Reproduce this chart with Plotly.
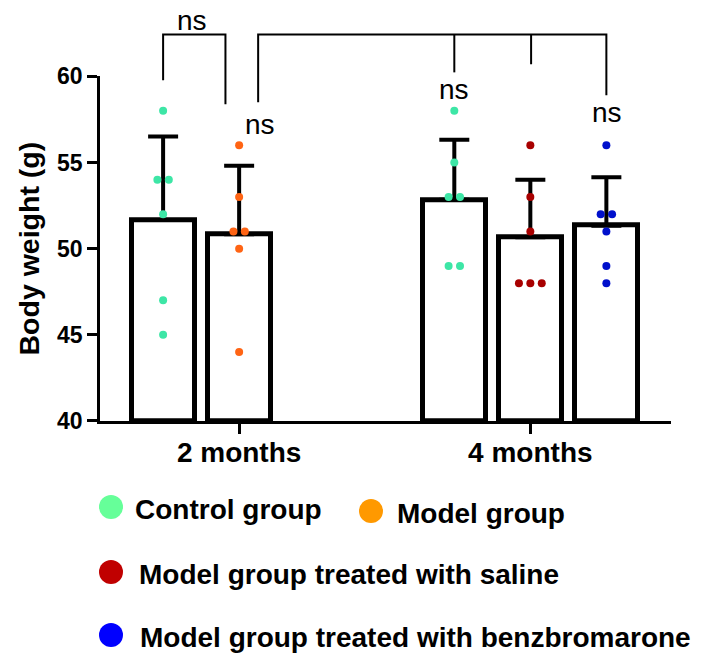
import numpy as np
import plotly.graph_objects as go

# ---------------- data ----------------
categories = ["2 months", "4 months"]
series_names = ["Control group", "Model group",
                "Model group treated with saline",
                "Model group treated with benzbromarone"]

control_2m = [58, 54, 54, 52, 47, 45]
model_2m = [56, 53, 51, 51, 50, 44]
control_4m = [58, 55, 53, 53, 49, 49]
saline_4m = [56, 53, 51, 48, 48, 48]
benz_4m = [56, 52, 52, 51, 49, 48]

y_ticks = [40, 45, 50, 55, 60]

# ---------------- styling / layout ----------------
FONT = "Liberation Sans, Arial, sans-serif"
dot_colors = {"Control group": "#3DE6A6", "Model group": "#FF6414",
              "Model group treated with saline": "#A80000",
              "Model group treated with benzbromarone": "#0010CC"}
legend_colors = {"Control group": "#66FF99", "Model group": "#FF9900",
                 "Model group treated with saline": "#C00000",
                 "Model group treated with benzbromarone": "#0000FF"}

group_start = [0.0, 3.83]   # x position of slot 0 for each group
slot_width = 1.0
bar_width = 0.83
dup_step = 0.15

bars = [  # (group index, slot, series name, values)
    (0, 0, "Control group", control_2m),
    (0, 1, "Model group", model_2m),
    (1, 0, "Control group", control_4m),
    (1, 1, "Model group treated with saline", saline_4m),
    (1, 2, "Model group treated with benzbromarone", benz_4m),
]

fig = go.Figure()

for g, s, name, vals in bars:
    x = group_start[g] + s * slot_width
    arr = np.array(vals, dtype=float)
    mean = arr.mean()
    sd = arr.std(ddof=1)
    fig.add_trace(go.Bar(
        x=[x], y=[mean - 40], base=[40], width=[bar_width],
        marker=dict(color="white", line=dict(color="black", width=5)),
        error_y=dict(type="data", array=[sd], arrayminus=[0], symmetric=False,
                     color="black", thickness=4, width=15),
        showlegend=False, hoverinfo="skip", xaxis="x", yaxis="y"))
    # dots with side-by-side offsets for tied values
    xs, ys = [], []
    for v in sorted(set(vals), reverse=True):
        c = vals.count(v)
        for k in range(c):
            xs.append(x + (k - (c - 1) / 2) * dup_step)
            ys.append(v)
    fig.add_trace(go.Scatter(
        x=xs, y=ys, mode="markers",
        marker=dict(color=dot_colors[name], size=8, line=dict(width=0)),
        showlegend=False, cliponaxis=False, hoverinfo="skip",
        xaxis="x", yaxis="y"))

# ---------------- significance brackets (on tall invisible axis y2) ----------------
brackets = [
    ([0.0, 0.0, 0.82, 0.82], [59.77, 62.43, 62.43, 58.38]),
    ([1.25, 1.25, 5.83, 5.83], [58.5, 62.43, 62.43, 58.9]),
    ([3.83, 3.83], [62.43, 60.23]),
    ([4.84, 4.84], [62.43, 60.7]),
]
for bx, by in brackets:
    fig.add_trace(go.Scatter(x=bx, y=by, mode="lines",
                             line=dict(color="black", width=2),
                             showlegend=False, hoverinfo="skip",
                             xaxis="x", yaxis="y2"))

ns_labels = [(0.38, 63.25), (1.28, 57.2), (3.83, 59.25), (5.84, 57.9)]
annotations = []
for ax_, ay_ in ns_labels:
    annotations.append(dict(x=ax_, y=ay_, xref="x", yref="y2", text="ns",
                            showarrow=False, xanchor="center", yanchor="middle",
                            font=dict(family=FONT, size=28, color="black")))

# ---------------- custom legend (paper coordinates) ----------------
# page body has an 8px margin, so figure px = screen px - 8
OFF = 8
PL, PT, PW, PH = 100 - OFF, 16 - OFF, 571, 405   # plot area in figure px


def px_to_paper(sx, sy):
    fx, fy = sx - OFF, sy - OFF
    return (fx - PL) / PW, (PT + PH - fy) / PH


legend_items = [  # name, marker centre (screen px), text left (screen px)
    ("Control group", (111, 507), 133),
    ("Model group", (371, 511), 395),
    ("Model group treated with saline", (111, 572), 137),
    ("Model group treated with benzbromarone", (111, 635), 138),
]
shapes = []
for name, (mx, my), tx in legend_items:
    x0, y0 = px_to_paper(mx - 12, my + 12)
    x1, y1 = px_to_paper(mx + 12, my - 12)
    shapes.append(dict(type="circle", xref="paper", yref="paper",
                       x0=x0, y0=y0, x1=x1, y1=y1,
                       fillcolor=legend_colors[name], line=dict(width=0)))
    tx_p, ty_p = px_to_paper(tx, my + 2)
    annotations.append(dict(x=tx_p, y=ty_p, xref="paper", yref="paper",
                            text=name, showarrow=False, xanchor="left",
                            yanchor="middle",
                            font=dict(family=FONT, size=28, color="black",
                                      weight="bold")))

tick_centres = [gs + 1 * slot_width for gs in group_start]

fig.update_layout(
    width=704, height=654,
    margin=dict(l=PL, r=704 - PL - PW, t=PT, b=654 - PT - PH),
    paper_bgcolor="white", plot_bgcolor="rgba(0,0,0,0)",
    showlegend=False,
    bargap=0,
    xaxis=dict(range=[-0.83, 6.68], showgrid=False, zeroline=False,
               showline=True, linecolor="black", linewidth=2.5,
               ticks="outside", ticklen=10, tickwidth=2.5, tickcolor="black",
               tickvals=tick_centres, ticktext=categories, automargin=False,
               ticklabelstandoff=-5,
               tickfont=dict(family=FONT, size=28, color="black", weight="bold"),
               anchor="y"),
    yaxis=dict(domain=[0, 20 / 23.5], range=[40, 60], showgrid=False,
               zeroline=False, showline=True, linecolor="black", linewidth=2.5,
               ticks="outside", ticklen=10, tickwidth=2.5, tickcolor="black",
               tickvals=y_ticks, automargin=False,
               tickfont=dict(family=FONT, size=23, color="black", weight="bold"),
               title=dict(text="Body weight (g)", standoff=10,
                          font=dict(family=FONT, size=28.5, color="black",
                                    weight="bold")),
               anchor="x"),
    yaxis2=dict(domain=[0, 1], range=[40, 63.5], visible=False, anchor="x",
                showgrid=False, zeroline=False, automargin=False),
    annotations=annotations,
    shapes=shapes,
)

fig.write_html("out.html")
